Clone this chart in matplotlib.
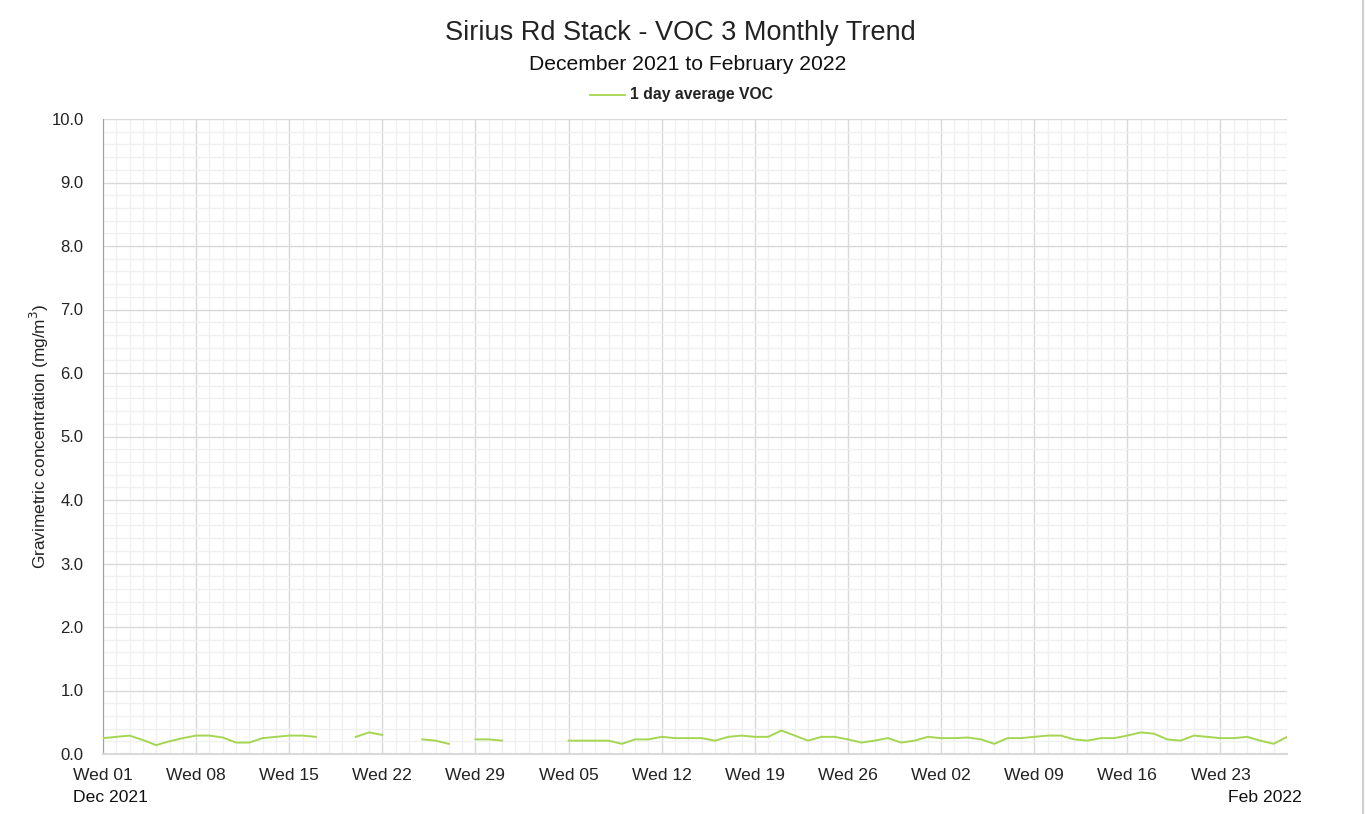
import numpy as np
import pandas as pd
import matplotlib
matplotlib.use("Agg")
import matplotlib.pyplot as plt
import matplotlib.dates as mdates
from matplotlib.ticker import MultipleLocator
from matplotlib.lines import Line2D

plt.rcParams['font.family'] = ['Liberation Sans', 'DejaVu Sans']

title = "Sirius Rd Stack - VOC 3 Monthly Trend"
subtitle = "December 2021 to February 2022"
series_name = "1 day average VOC"
y_label = "Gravimetric concentration (mg/m$^3$)"

start_date = "2021-12-01"
end_date = "2022-02-28"
nan = np.nan
voc_values = [
    0.25, 0.27, 0.29, 0.22, 0.14, 0.20, 0.25, 0.29, 0.29, 0.26,
    0.18, 0.18, 0.25, 0.27, 0.29, 0.29, 0.27, nan, nan, 0.27,
    0.34, 0.30, nan, nan, 0.23, 0.21, 0.16, nan, 0.23, 0.23,
    0.21, nan, nan, nan, nan, 0.21, 0.21, 0.21, 0.21, 0.16,
    0.23, 0.23, 0.27, 0.25, 0.25, 0.25, 0.21, 0.27, 0.29, 0.27,
    0.27, 0.37, 0.29, 0.21, 0.27, 0.27, 0.23, 0.18, 0.21, 0.25,
    0.18, 0.21, 0.27, 0.25, 0.25, 0.26, 0.23, 0.16, 0.25, 0.25,
    0.27, 0.29, 0.29, 0.23, 0.21, 0.25, 0.25, 0.29, 0.34, 0.32,
    0.23, 0.21, 0.29, 0.27, 0.25, 0.25, 0.27, 0.21, 0.16, 0.27,
]
dates = pd.date_range(start_date, periods=len(voc_values), freq="D")

fig = plt.figure(figsize=(13.65, 8.14), dpi=100)
ax = fig.add_axes([103/1365, 1-754/814, (1287-103)/1365, (754-119)/814])

ax.plot(dates, voc_values, color="#a5d651", lw=1.4, zorder=3)

ax.set_xlim(pd.Timestamp(start_date), pd.Timestamp(end_date))
ax.set_ylim(0, 10)

ax.yaxis.set_major_locator(MultipleLocator(1.0))
ax.yaxis.set_minor_locator(MultipleLocator(0.2))
ax.yaxis.set_major_formatter(matplotlib.ticker.FormatStrFormatter("%.1f"))
ax.xaxis.set_major_locator(mdates.WeekdayLocator(byweekday=mdates.WE))
ax.xaxis.set_minor_locator(mdates.DayLocator())
ax.xaxis.set_major_formatter(mdates.DateFormatter("Wed %d"))

ax.grid(which="major", color="#d9d9d9", lw=1.0, zorder=1)
ax.grid(which="minor", color="#f0f0f0", lw=1.0, zorder=0)
ax.set_axisbelow(True)

for s in ["top", "right"]:
    ax.spines[s].set_visible(False)
ax.spines["left"].set_color("#a0a0a0")
ax.spines["bottom"].set_color("#d9d9d9")
ax.spines["bottom"].set_linewidth(1.5)

ax.tick_params(axis="x", which="both", length=0, labelsize=12.6, colors="#222222", pad=10)
ax.tick_params(axis="y", which="both", length=0, labelsize=12, colors="#222222", pad=14)

ax.set_ylabel(y_label, fontsize=12.4, color="#222222", labelpad=0)

# month labels
ax.text((110-103)/1184, -(797-754)/635, "Dec 2021", transform=ax.transAxes, ha="center",
        va="center", fontsize=12.6, color="#111111")
ax.text((1265-103)/1184, -(797-754)/635, "Feb 2022", transform=ax.transAxes,
        ha="center", va="center", fontsize=12.6, color="#111111")

fig.text(680/1365, 1-33/814, title, ha="center", va="center", fontsize=19.5, color="#222222")
fig.text(688/1365, 1-65/814, subtitle, ha="center", va="center", fontsize=15.2, color="#111111")

fig.add_artist(Line2D([590/1365, 625/1365], [1-95/814, 1-95/814], color="#a5d651", lw=1.3))
fig.text(630/1365, 1-95/814, series_name, ha="left", va="center", fontsize=11.3,
         fontweight="bold", color="#222222")

fig.add_artist(Line2D([1363/1365, 1363/1365], [0, 1], color="#d0d0d0", lw=1.5))

fig.savefig("out.png", dpi=100)
